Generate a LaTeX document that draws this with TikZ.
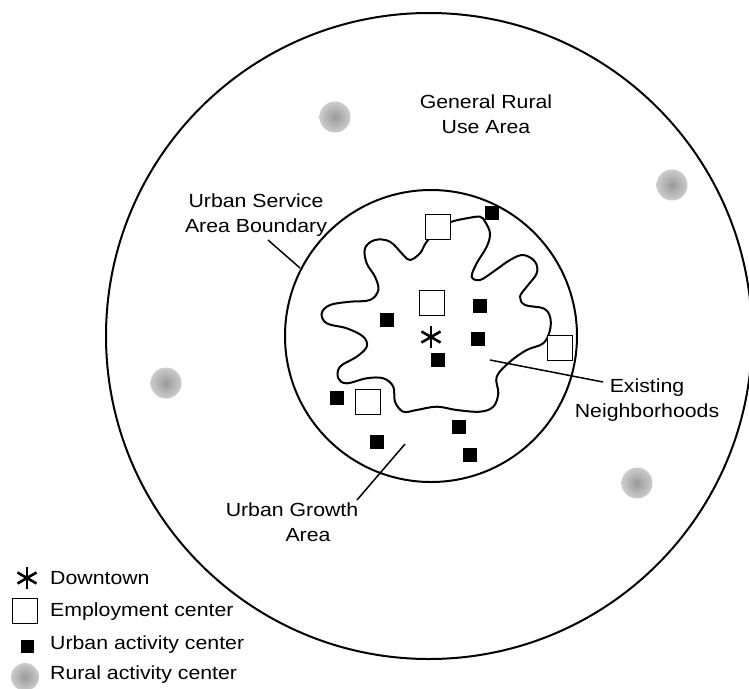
\documentclass[tikz,border=0pt]{standalone}
\usepackage{fontspec}
\setmainfont{Liberation Sans}[FakeStretch=1.12]
\begin{document}
\begin{tikzpicture}[x=1pt,y=-1pt,
  lbl/.style={font=\fontsize{19}{25}\selectfont, inner sep=0pt, align=center},
  leg/.style={font=\fontsize{19}{25}\selectfont, inner sep=0pt, anchor=west},
  emp/.style={draw, line width=1.8pt, fill=white, minimum size=25pt, inner sep=0pt},
  urb/.style={fill=black, minimum size=14pt, inner sep=0pt},
  rural/.style={circle, minimum size=31pt, inner sep=0pt, inner color=gray!80, outer color=gray!40},
  astr/.style={circle, minimum size=24pt, inner sep=0pt,
    path picture={
      \draw[line width=2.6pt] (path picture bounding box.center) +(90:11) -- +(270:11);
      \draw[line width=2.6pt] (path picture bounding box.center) +(30:11) -- +(210:11);
      \draw[line width=2.6pt] (path picture bounding box.center) +(150:11) -- +(330:11);}},
  ring/.style={line width=2pt},
  leader/.style={line width=1.5pt}]
\useasboundingbox (0,0) rectangle (749,688);
\fill[white] (0,0) rectangle (749,688);

% circles
\draw[ring] (429,336) circle (323);
\draw[ring] (431,336) circle (146);

% existing neighbourhoods blob
\draw[line width=2pt] plot[smooth cycle, tension=0.6] coordinates {
 (410.0,260.0) (420.0,253.3) (426.7,241.7) (440,228) (451.7,221.7) (466.7,218.3) (480.0,216.7)
 (485.0,221.7) (490.0,233.3) (486.7,246.7) (476.7,263.3) (471.7,276.7) (480.0,280.0)
 (493.3,271.7) (510.0,260.0) (523.3,255.0) (535.0,261.7) (536.7,273.3) (526.7,286.7)
 (520.0,296.7) (525.0,305.0) (543.3,308.3) (550.0,316.7) (550.0,330.0) (543.3,343.3)
 (526.7,350.0) (510.0,361.7) (496.7,376.7) (498.3,393.3) (493.3,406.7) (480.0,411.7)
 (456.7,410.0) (436.7,406.7) (416.7,410.0) (403.3,411.7) (395.0,401.7) (393.3,386.7)
 (383.3,378.3) (366.7,378.3) (346.7,383.3) (338.3,378.3) (340.0,366.7) (356.7,356.7)
 (366.7,346.7) (363.3,336.7) (346.7,328.3) (326.7,323.3) (321.7,313.3) (330.0,305.0)
 (350.0,301.7) (370.0,300.0) (378.3,290.0) (375.0,276.7) (366.7,263.3) (365.0,248.3)
 (375.0,240.0) (390.0,241.7) (403.3,255.0)};

% rural activity centres
\node[rural] (r1) at (335,117) {};
\node[rural] (r2) at (672,185) {};
\node[rural] (r3) at (166,383) {};
\node[rural] (r4) at (637,483) {};

% employment centres
\node[emp] (e1) at (438,227) {};
\node[emp] (e2) at (432,303) {};
\node[emp] (e3) at (560,348) {};
\node[emp] (e4) at (368,402) {};

% urban activity centres
\node[urb] (u1) at (492,213) {};
\node[urb] (u2) at (387,320) {};
\node[urb] (u3) at (480,306) {};
\node[urb] (u4) at (478,339) {};
\node[urb] (u5) at (438,360) {};
\node[urb] (u6) at (337,398) {};
\node[urb] (u7) at (459,427) {};
\node[urb] (u8) at (377,442) {};
\node[urb] (u9) at (470,455) {};

% downtown
\node[astr] (dt) at (431,337) {};

% labels
\node[lbl] (gr) at (486,114) {General Rural\\Use Area};
\node[lbl] (usa) at (256,215) {Urban Service\\Area Boundary};
\node[lbl] (en) at (647,400) {Existing\\Neighborhoods};
\node[lbl] (ug1) at (292,510) {Urban Growth};
\node[lbl] (ug2) at (308,535) {Area};

% leaders
\coordinate (usaA) at (268,240);
\coordinate (usaB) at (300,268);
\draw[leader] (usaA) -- (usaB);
\coordinate (enA) at (603,382);
\coordinate (enB) at (490,360);
\draw[leader] (enA) -- (enB);
\coordinate (ugA) at (357,500);
\coordinate (ugB) at (405,444);
\draw[leader] (ugA) -- (ugB);

% legend
\node[astr] (ldt) at (27,578) {};
\node[leg] (t1) at (50,578) {Downtown};
\node[emp] (lemp) at (25,611) {};
\node[leg] (t2) at (50,612) {Employment center};
\node[urb, minimum size=13pt] (lurb) at (27,646) {};
\node[leg] (t3) at (50,645) {Urban activity center};
\node[rural, minimum size=28pt] (lrur) at (25,677) {};
\node[leg] (t4) at (50,675) {Rural activity center};
\end{tikzpicture}
\end{document}
